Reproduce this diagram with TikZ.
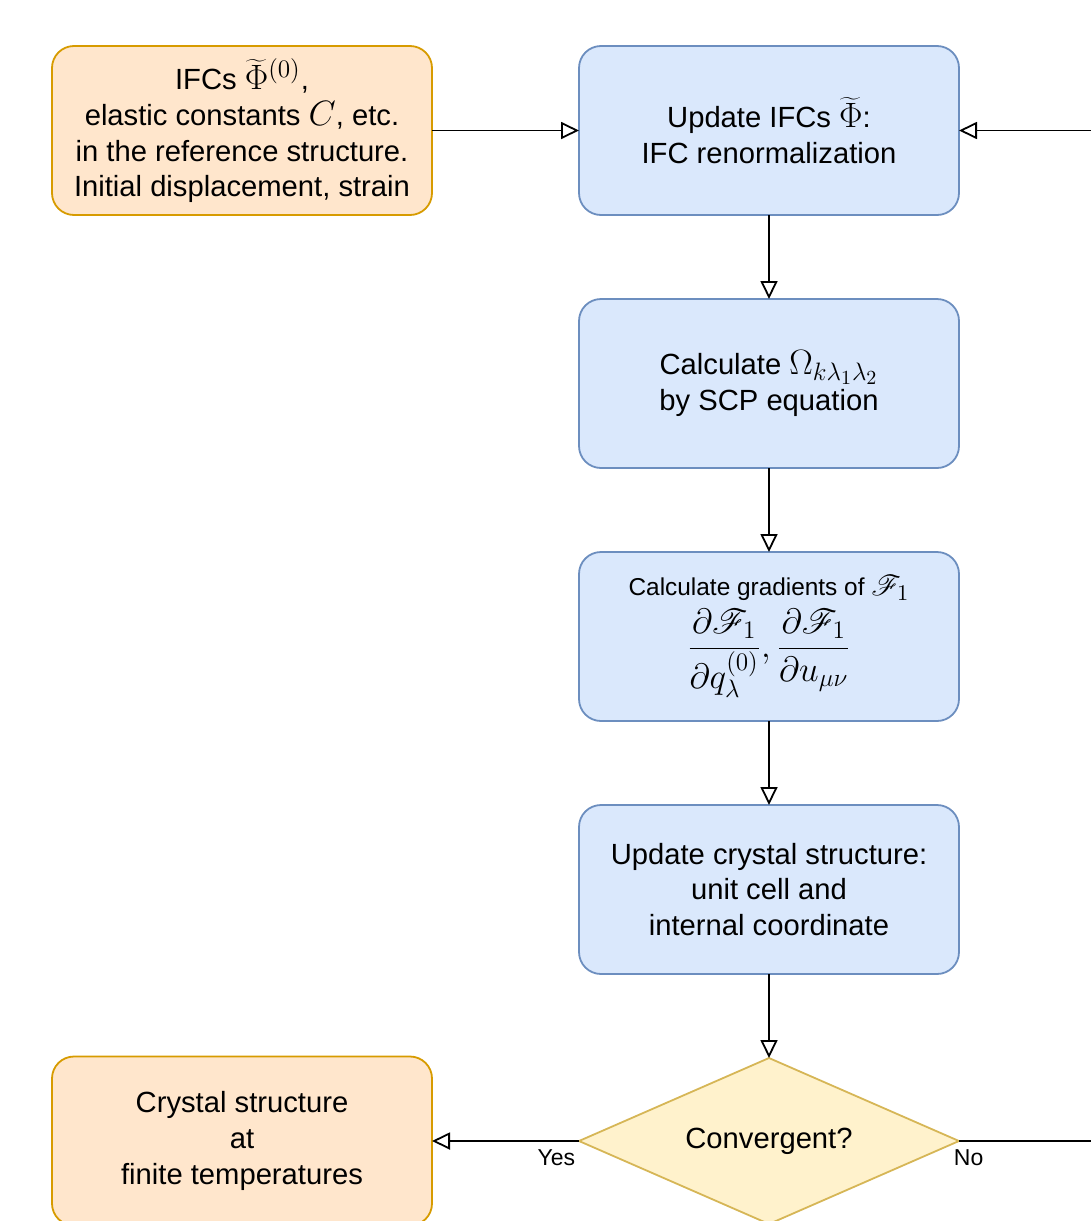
\RequirePackage{fix-cm}
\documentclass[tikz,border=0pt]{standalone}
\usepackage{fontspec}
\setmainfont{Liberation Sans}
\usepackage{mathrsfs}
\usetikzlibrary{positioning,shapes.geometric,arrows.meta}

% math a little larger than the text, as in the original
\DeclareMathSizes{14.6}{17.6}{12.6}{10}
\DeclareMathSizes{12.2}{15.4}{11.2}{9}

\definecolor{procfill}{HTML}{DAE8FC}
\definecolor{procline}{HTML}{6C8EBF}
\definecolor{iofill}{HTML}{FFE6CC}
\definecolor{ioline}{HTML}{D79B00}
\definecolor{decfill}{HTML}{FFF2CC}
\definecolor{decline}{HTML}{D6B656}

\begin{document}
\begin{tikzpicture}[x=0.5pt,y=-0.5pt,>={Triangle[open,length=9pt,width=8.5pt]},node distance=42pt and 73.5pt,
    proc node/.style={rectangle,rounded corners=11pt,draw=procline,fill=procfill,line width=0.9pt,outer sep=0pt,minimum width=190pt,minimum height=84.5pt,align=center,font=\fontsize{14.6}{17.8}\selectfont},
    io node/.style={proc node,draw=ioline,fill=iofill},
    dec node/.style={diamond,aspect=2.3,draw=decline,fill=decfill,line width=0.9pt,outer sep=0pt,inner sep=0pt,minimum width=190pt,minimum height=83pt,font=\fontsize{14.6}{17.8}\selectfont},
    flow/.style={->,line width=0.9pt},
    lbl/.style={font=\fontsize{11.5}{13}\selectfont,inner sep=1pt}]

    \useasboundingbox (0,0) rectangle (1091,1221);
    \clip (0,0) rectangle (1091,1221);

    \node[proc node]  (upd) at (769,130.5) {Update IFCs $\widetilde{\Phi}$:\\IFC renormalization};
    \node[proc node]  (scp) [below=of upd] {Calculate $\Omega_{k\lambda_1\lambda_2}$\\by SCP equation};
    \node[proc node]  (grad) [below=of scp] {\fontsize{12.2}{15}\selectfont Calculate gradients of $\mathscr{F}_1$\\[3pt]
        $\displaystyle\frac{\partial\mathscr{F}_1}{\partial q^{(0)}_\lambda},\frac{\partial\mathscr{F}_1}{\partial u_{\mu\nu}}$};
    \node[proc node]  (struct) [below=of grad] {Update crystal structure:\\unit cell and\\internal coordinate};
    \node[dec node]   (conv) [below=of struct] {Convergent?};

    \node[io node]    (init) [left=of upd] {IFCs $\widetilde{\Phi}^{(0)}$,\\elastic constants $C$, etc.\\in the reference structure.\\Initial displacement, strain};
    \node[io node]    (res) [left=of conv] {Crystal structure\\at\\finite temperatures};

    \coordinate (back) at (1160,0);

    \draw[flow] (init) -- (upd);
    \draw[flow] (upd) -- (scp);
    \draw[flow] (scp) -- (grad);
    \draw[flow] (grad) -- (struct);
    \draw[flow] (struct) -- (conv);
    \draw[flow] (conv) -- node[lbl,pos=0,anchor=north east,xshift=-0.5pt,yshift=-3pt] (yes) {Yes} (res);
    \draw[flow] (conv.east) -- node[lbl,pos=0,anchor=north west,xshift=-4pt,yshift=-3pt] (no) {No} (conv.east -| back) |- (upd.east);
\end{tikzpicture}
\end{document}
